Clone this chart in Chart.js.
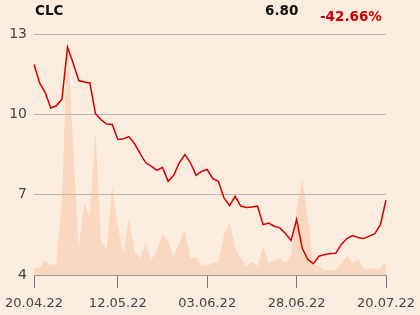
<!DOCTYPE html>
<html>
<head>
<meta charset="utf-8">
<script src="https://cdn.jsdelivr.net/npm/chart.js@4/dist/chart.umd.min.js"></script>
<style>
  html, body { margin: 0; padding: 0; background: #fbece0; }
  #wrap { position: relative; width: 420px; height: 315px; overflow: hidden; }
  canvas { position: absolute; left: 0; top: 0; }
  .hd { position: absolute; font-family: "DejaVu Sans", sans-serif; font-weight: bold; white-space: nowrap; line-height: normal; }
</style>
</head>
<body>
<div id="wrap">
  <canvas id="c" width="420" height="315"></canvas>
  <div class="hd" id="sym" style="left:35px; top:2px; font-size:13.5px; color:#111;"></div>
  <div class="hd" id="last" style="left:265px; top:2px; font-size:13.5px; color:#111;"></div>
  <div class="hd" id="chg" style="left:320px; top:8px; font-size:13.5px; color:#cc0000;"></div>
</div>
<script>
const symbol = "CLC";
const lastPrice = "6.80";
const changeText = "-42.66%";

const dates = [
  "20.04.22","21.04.22","22.04.22","25.04.22","26.04.22","27.04.22","28.04.22","29.04.22",
  "02.05.22","04.05.22","05.05.22","06.05.22","09.05.22","10.05.22","11.05.22","12.05.22","13.05.22",
  "16.05.22","17.05.22","18.05.22","19.05.22","20.05.22","23.05.22","24.05.22","25.05.22","26.05.22",
  "27.05.22","30.05.22","31.05.22",
  "01.06.22","02.06.22","03.06.22","06.06.22","07.06.22","08.06.22","09.06.22","10.06.22","13.06.22",
  "14.06.22","15.06.22","17.06.22","20.06.22","21.06.22","22.06.22","23.06.22","24.06.22","27.06.22",
  "28.06.22","29.06.22","30.06.22",
  "01.07.22","04.07.22","05.07.22","06.07.22","07.07.22","08.07.22","11.07.22","12.07.22","13.07.22",
  "14.07.22","15.07.22","18.07.22","19.07.22","20.07.22"
];

const prices = [
  11.86, 11.17, 10.82, 10.24, 10.32, 10.57, 12.51, 11.92, 11.26, 11.21,
  11.17, 10.03, 9.80, 9.64, 9.62, 9.06, 9.09, 9.17, 8.90, 8.53,
  8.19, 8.06, 7.91, 8.02, 7.50, 7.72, 8.19, 8.50, 8.19, 7.72,
  7.87, 7.94, 7.60, 7.50, 6.88, 6.59, 6.94, 6.57, 6.52, 6.54,
  6.57, 5.88, 5.94, 5.82, 5.76, 5.55, 5.29, 6.07, 5.01, 4.58,
  4.42, 4.70, 4.76, 4.80, 4.81, 5.14, 5.36, 5.47, 5.40, 5.36,
  5.45, 5.54, 5.88, 6.80
];

const volumes = [
  7, 7, 15, 10, 11, 75, 235, 130, 26, 72,
  58, 143, 33, 26, 89, 48, 22, 56, 23, 17,
  32, 15, 25, 41, 34, 18, 32, 45, 17, 18,
  9, 9, 12, 12, 40, 53, 27, 17, 8, 13,
  9, 29, 12, 14, 17, 12, 20, 65, 96, 57,
  10, 9, 5, 5, 5, 12, 19, 12, 16, 6,
  7, 6, 7, 13
];

const xTickLabels = ["20.04.22", "12.05.22", "03.06.22", "28.06.22", "20.07.22"];
const yTicks = [4, 7, 10, 13];

document.getElementById('sym').textContent = symbol;
document.getElementById('last').textContent = lastPrice;
document.getElementById('chg').textContent = changeText;

const FONT = "'DejaVu Sans', sans-serif";
const shown = (i) => xTickLabels.includes(dates[i]);

new Chart(document.getElementById('c'), {
  type: 'line',
  data: {
    labels: dates,
    datasets: [
      {
        label: 'Kurs',
        data: prices,
        yAxisID: 'y',
        borderColor: '#d40000',
        borderWidth: 1.5,
        pointRadius: 0,
        tension: 0,
        fill: false,
        order: 1
      },
      {
        label: 'Wolumen',
        data: volumes,
        yAxisID: 'y2',
        borderWidth: 0,
        borderColor: 'rgba(0,0,0,0)',
        backgroundColor: 'rgba(242,188,148,0.42)',
        pointRadius: 0,
        tension: 0,
        fill: 'origin',
        order: 2
      }
    ]
  },
  options: {
    responsive: false,
    animation: false,
    devicePixelRatio: 1,
    layout: { padding: { top: 34, right: 34, left: 0, bottom: 0 } },
    plugins: { legend: { display: false }, tooltip: { enabled: false } },
    scales: {
      x: {
        type: 'category',
        offset: false,
        grid: {
          drawOnChartArea: false,
          drawTicks: true,
          tickLength: 13,
          color: (ctx) => (ctx.index !== undefined && shown(ctx.index)) ? '#777' : 'rgba(0,0,0,0)',
          lineWidth: 1
        },
        border: { display: true, color: '#999', width: 1 },
        ticks: {
          autoSkip: false,
          maxRotation: 0,
          minRotation: 0,
          padding: 3,
          color: '#444',
          font: { family: FONT, size: 13, lineHeight: 2.0 },
          callback: function(val, i) { return shown(i) ? dates[i] : ''; }
        },
        afterFit: (s) => { s.height = 40; }
      },
      y: {
        position: 'left',
        min: 4,
        max: 13,
        afterBuildTicks: (s) => { s.ticks = yTicks.map(v => ({ value: v })); },
        grid: { color: '#b5b5b5', lineWidth: 1, drawTicks: false },
        border: { display: false },
        ticks: {
          padding: 7,
          color: '#444',
          font: { family: FONT, size: 14 },
          callback: (v) => String(v)
        },
        afterFit: (s) => { s.width = 34; }
      },
      y2: {
        position: 'right',
        display: false,
        min: 0,
        max: 241,
        grid: { display: false }
      }
    }
  }
});
</script>
</body>
</html>
